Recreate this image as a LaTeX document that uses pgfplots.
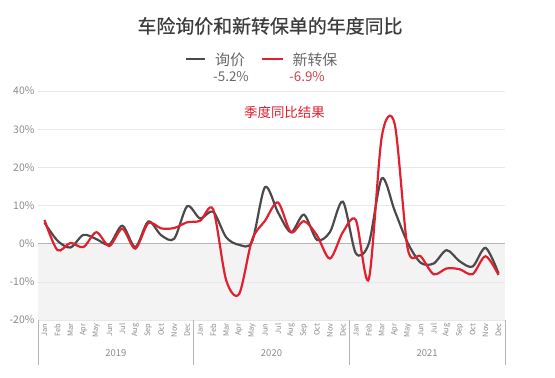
\documentclass[border=0pt]{standalone}
\usepackage{fontspec}
\setmainfont{Noto Sans CJK SC}
\newfontfamily\titlefont[FakeBold=0.6]{Noto Sans CJK SC}
\usepackage{pgfplots}
\pgfplotsset{compat=1.18}
\usepackage{pgfplotstable}
\definecolor{cgray}{HTML}{4A4A4A}
\definecolor{cred}{HTML}{E0202E}
\definecolor{ctitle}{HTML}{3C3C3C}
\definecolor{ctick}{HTML}{8A8A8A}
\definecolor{cgrid}{HTML}{E8E8E8}
\definecolor{czero}{HTML}{B4B4B4}
\definecolor{cfill}{HTML}{F3F3F3}
\definecolor{cpct}{HTML}{686868}
\definecolor{cpctred}{HTML}{D0404F}
\pgfplotstableread{
m g r
0 5.5 6.2
1 0.8 -1.7
2 -1.0 0.2
3 2.3 -0.9
4 1.2 3.0
5 -0.2 -0.6
6 4.7 3.9
7 -0.9 -1.3
8 5.8 5.4
9 2.2 4.0
10 1.3 4.1
11 9.8 5.6
12 6.6 6.0
13 8.4 9.0
14 1.7 -9.5
15 -0.3 -13.2
16 0.5 1.0
17 14.8 6.0
18 8.2 10.8
19 3.0 3.0
20 7.6 5.9
21 1.0 2.2
22 3.0 -3.9
23 11.0 3.0
24 -2.5 6.2
25 0.0 -9.3
26 17.1 28.0
27 8.6 31.3
28 0.2 -1.3
29 -5.0 -3.3
30 -5.2 -8.0
31 -1.7 -6.5
32 -4.6 -6.7
33 -6.0 -8.0
34 -1.1 -3.3
35 -7.8 -8.2
}\data
\begin{document}
\begin{tikzpicture}
\path[use as bounding box] (0,0) rectangle (555bp,378bp);
\node[color=ctitle, font=\titlefont\fontsize{19}{19}\selectfont] at (270bp,352bp) {车险询价和新转保单的年度同比};
\draw[cgray, line width=2.4pt] (186bp,319bp) -- (205bp,319bp);
\node[color=cpct, font=\fontsize{15}{15}\selectfont] at (230bp,318bp) {询价};
\node[color=cpct, font=\fontsize{13.5}{13.5}\selectfont] at (231bp,301bp) {-5.2\%};
\draw[cred, line width=2.4pt] (262bp,319bp) -- (283bp,319bp);
\node[color=cpct, font=\fontsize{15}{15}\selectfont] at (315bp,318bp) {新转保};
\node[color=cpctred, font=\fontsize{13.5}{13.5}\selectfont] at (307bp,301bp) {-6.9\%};
\begin{axis}[at={(38bp,58bp)}, anchor=south west, scale only axis,
  width=467bp, height=229bp,
  xmin=-0.5, xmax=35.5, ymin=-20, ymax=40,
  axis line style={draw=none},
  clip=false,
  ytick={-20,-10,0,10,20,30,40},
  yticklabels={-20\%,-10\%,0\%,10\%,20\%,30\%,40\%},
  yticklabel style={color=ctick, font=\fontsize{10.5}{10.5}\selectfont},
  ytick style={draw=none},
  xtick={0,...,35},
  xticklabels={Jan,Feb,Mar,Apr,May,Jun,Jul,Aug,Sep,Oct,Nov,Dec,Jan,Feb,Mar,Apr,May,Jun,Jul,Aug,Sep,Oct,Nov,Dec,Jan,Feb,Mar,Apr,May,Jun,Jul,Aug,Sep,Oct,Nov,Dec},
  xticklabel style={rotate=90, anchor=east, color=ctick, font=\fontsize{7.5}{7.5}\selectfont},
  xtick style={draw=none},
]
\fill[cfill] (axis cs:-0.5,-20) rectangle (axis cs:35.5,0);
\foreach \yy in {-10,10,20,30,40} {
  \edef\tmp{\noexpand\draw[cgrid, line width=0.6pt] (axis cs:-0.5,\yy) -- (axis cs:35.5,\yy);}\tmp
}
\draw[cgrid, line width=0.6pt] (axis cs:-0.5,-20) -- (axis cs:35.5,-20);
\draw[czero, line width=0.8pt] (axis cs:-0.5,0) -- (axis cs:35.5,0);
\foreach \xx in {-0.5,11.5,23.5,35.5} {
  \edef\tmp{\noexpand\draw[czero, line width=0.6pt] (axis cs:\xx,-20) -- ([yshift=-45bp]axis cs:\xx,-20);}\tmp
}
\node[color=ctick, font=\fontsize{9.5}{9.5}\selectfont] at (axis cs:5.5,-20) [yshift=-33bp] {2019};
\node[color=ctick, font=\fontsize{9.5}{9.5}\selectfont] at (axis cs:17.5,-20) [yshift=-33bp] {2020};
\node[color=ctick, font=\fontsize{9.5}{9.5}\selectfont] at (axis cs:29.5,-20) [yshift=-33bp] {2021};
\node[color=cred, font=\fontsize{13.5}{13.5}\selectfont] at (axis cs:18.5,34.5) {季度同比结果};
\addplot[cgray, line width=2.2pt, smooth, no marks] table[x=m, y=g] {\data};
\addplot[cred, line width=2.2pt, smooth, no marks] table[x=m, y=r] {\data};
\end{axis}
\end{tikzpicture}
\end{document}
